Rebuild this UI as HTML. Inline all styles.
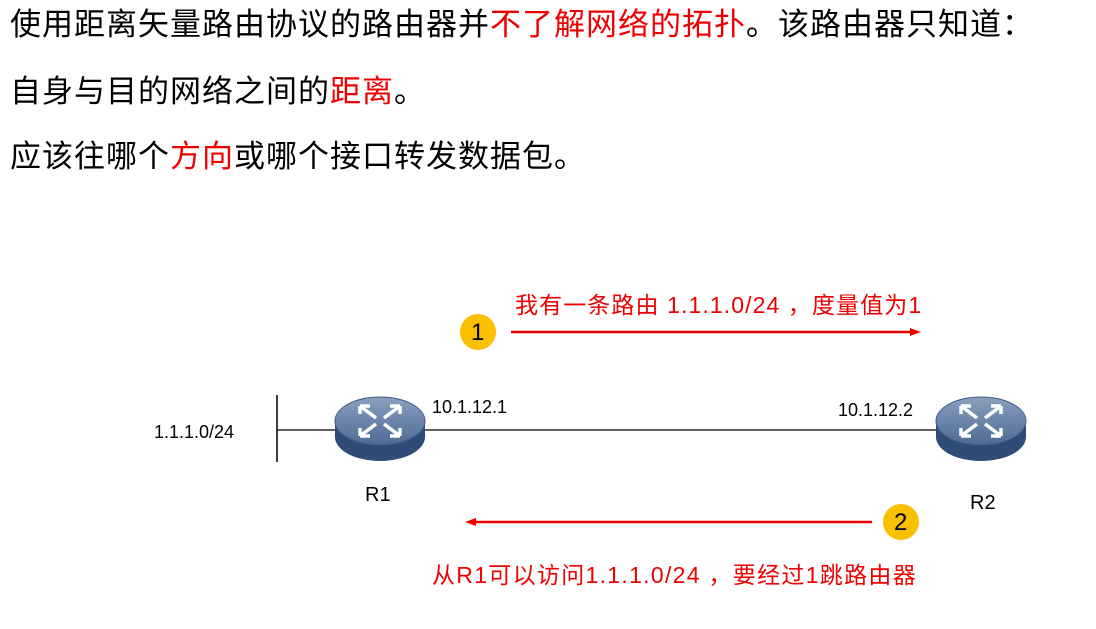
<!DOCTYPE html>
<html><head><meta charset="utf-8"><style>
body{margin:0;width:1096px;height:629px;background:#fff;overflow:hidden;position:relative;font-family:"Liberation Sans","Noto Sans CJK SC",sans-serif}
.t{position:absolute;left:10px;font-size:31px;letter-spacing:1px;color:#000;white-space:nowrap;line-height:1}
.r{color:#e00}
.s{position:absolute;font-size:18px;white-space:nowrap;line-height:1}
</style></head><body>
<div class="t" style="top:9px">使用距离矢量路由协议的路由器并<span class="r">不了解网络的拓扑</span>。该路由器只知道：</div>
<div class="t" style="top:76px">自身与目的网络之间的<span class="r">距离</span>。</div>
<div class="t" style="top:141px">应该往哪个<span class="r">方向</span>或哪个接口转发数据包。</div>
<svg width="1096" height="629" style="position:absolute;left:0;top:0">
<defs>
<linearGradient id="g" x1="0" y1="0" x2="0" y2="1"><stop offset="0" stop-color="#8aa0bf"/><stop offset="1" stop-color="#4e6a94"/></linearGradient>
<g id="rt">
<path d="M-45,0 v16 a45,24 0 0 0 90,0 v-16 z" fill="#2f4c78"/>
<ellipse cx="0" cy="0" rx="45" ry="24" fill="url(#g)" stroke="#3d5a85" stroke-width="1"/>
<g stroke="#fff" stroke-width="3.5" fill="none">
<path d="M-4,-3 L-20,-15 M-20,-15 h10 M-20,-15 v8"/>
<path d="M4,-3 L20,-15 M20,-15 h-10 M20,-15 v8"/>
<path d="M-4,3 L-20,15 M-20,15 h10 M-20,15 v-8"/>
<path d="M4,3 L20,15 M20,15 h-10 M20,15 v-8"/>
</g>
</g>
</defs>
<line x1="277" y1="395" x2="277" y2="462" stroke="#000" stroke-width="1.5"/>
<line x1="277" y1="430" x2="980" y2="430" stroke="#000" stroke-width="1.2"/>
<use href="#rt" x="380" y="421"/>
<use href="#rt" x="981" y="421"/>
<line x1="511" y1="332" x2="912" y2="332" stroke="#e00" stroke-width="2.5"/>
<polygon points="921,332 910,328 910,336" fill="#e00"/>
<line x1="475" y1="522" x2="872" y2="522" stroke="#e00" stroke-width="2.5"/>
<polygon points="465,522 476,518 476,526" fill="#e00"/>
<circle cx="478" cy="332" r="18" fill="#f8c000"/>
<circle cx="901" cy="522" r="18" fill="#f8c000"/>
</svg>
<div class="s" style="left:471px;top:321px;font-size:24px">1</div>
<div class="s" style="left:894px;top:511px;font-size:24px">2</div>
<div class="s r" style="left:515px;top:294px;font-size:23px;letter-spacing:1.1px">我有一条路由 1.1.1.0/24 ，度量值为1</div>
<div class="s r" style="left:432px;top:564px;font-size:23px;letter-spacing:1.3px">从R1可以访问1.1.1.0/24 ，要经过1跳路由器</div>
<div class="s" style="left:154px;top:423px">1.1.1.0/24</div>
<div class="s" style="left:432px;top:398px">10.1.12.1</div>
<div class="s" style="left:838px;top:401px">10.1.12.2</div>
<div class="s" style="left:365px;top:485px;font-size:20px">R1</div>
<div class="s" style="left:970px;top:493px;font-size:20px">R2</div>
</body></html>
